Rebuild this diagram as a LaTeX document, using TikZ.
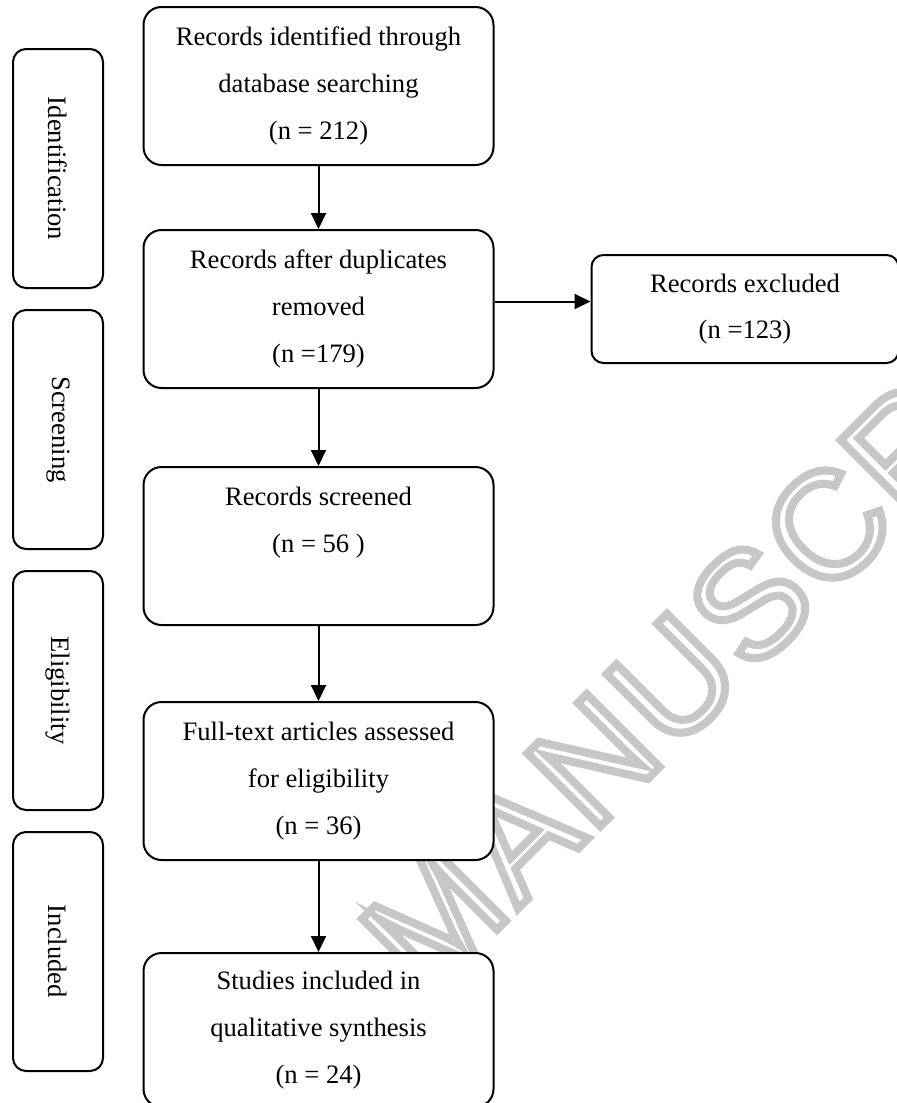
\documentclass[tikz,border=0pt]{standalone}
\usepackage{fontspec}
\setmainfont{Liberation Serif}
\newfontfamily\markfont[LetterSpace=3]{Liberation Sans}
\usepackage{graphicx}
\usetikzlibrary{positioning,chains,arrows.meta}

\tikzset{
  stepbox/.style={draw,fill=white,rounded corners=9pt,align=center,inner sep=0pt,
    minimum width=175pt,minimum height=79pt},
  stagebox/.style={draw,fill=white,rounded corners=6.5pt,inner sep=0pt,
    minimum width=45pt,minimum height=119.5pt},
  flowarrow/.style={-{Triangle[length=8pt,width=7.5pt]}}
}

\begin{document}
\begin{tikzpicture}[x=1pt,y=1pt,line width=1pt,font=\fontsize{13.3}{23.3}\selectfont]
\useasboundingbox (0,0) rectangle (448.5,-551.5);

% watermark behind the boxes
\node[rotate=45,anchor=base west,inner sep=0pt] (watermark) at (212.8,-500.6)
  {\markfont\fontsize{75}{75}\selectfont\special{pdf:literal direct 1 Tr 4 w 0.78 G}MANUSCRIPT\special{pdf:literal direct 0 Tr}};

\begin{scope}[start chain=stage going below,node distance=10pt,every node/.style={stagebox,on chain}]
\node (identification) at (29,-84.25) {\rotatebox{-90}{Identification}};
\node (screening) {\rotatebox{-90}{Screening}};
\node (eligibility) {\rotatebox{-90}{Eligibility}};
\node (inclusion) {\rotatebox{-90}{Included}};
\end{scope}

\begin{scope}[start chain=main going below,every node/.style={stepbox},every join/.style={flowarrow}]
% Identification
\node[on chain] (identified) at (159.25,-43) {Records identified through\\database searching\\(n = 212)};
\node[node distance=31.5pt,on chain,join] (deduplicated) {Records after duplicates\\removed\\(n =179)};
% Screening
\node[node distance=38.5pt,on chain,join] (screened) {Records screened\\(n = 56 )\\\vphantom{(}};
% Eligibility
\node[node distance=37.5pt,on chain,join] (assessed) {Full-text articles assessed\\for eligibility\\(n = 36)};
% Included
\node[node distance=45.5pt,minimum height=77pt,on chain,join] (synthesis) {Studies included in\\qualitative synthesis\\(n = 24)};
\end{scope}

\node[stepbox,minimum width=153.5pt,minimum height=54pt,rounded corners=6pt,right=48pt of deduplicated] (excluded) {Records excluded\\(n =123)};
\draw[flowarrow] ([yshift=3.75pt]deduplicated.east) -- ([yshift=3.75pt]deduplicated.east -| excluded.west);

\end{tikzpicture}
\end{document}
